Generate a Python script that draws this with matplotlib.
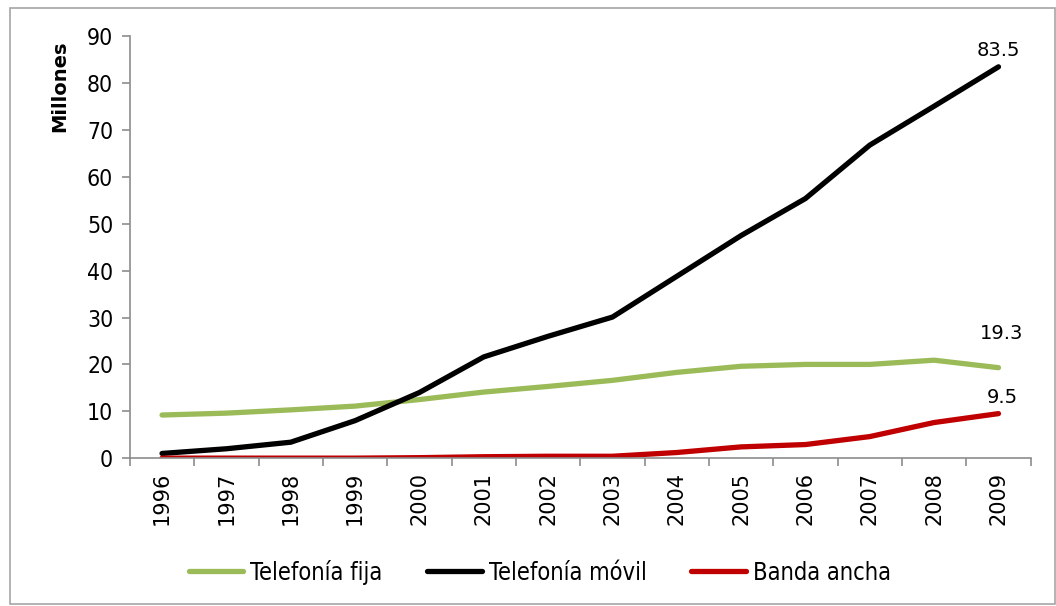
import matplotlib.pyplot as plt
from matplotlib.patches import Rectangle
from matplotlib.font_manager import FontProperties

years = ['1996', '1997', '1998', '1999', '2000', '2001', '2002',
         '2003', '2004', '2005', '2006', '2007', '2008', '2009']
fija = [9.2, 9.6, 10.3, 11.1, 12.5, 14.1, 15.3, 16.6, 18.3, 19.6, 20.0, 20.0, 20.9, 19.3]
movil = [1.0, 2.0, 3.4, 8.0, 14.0, 21.6, 26.0, 30.1, 38.8, 47.5, 55.4, 66.8, 75.1, 83.5]
banda = [0.0, 0.0, 0.0, 0.0, 0.1, 0.3, 0.4, 0.4, 1.2, 2.4, 2.9, 4.6, 7.6, 9.5]

grey = '#8c8c8c'
cond = FontProperties(family='DejaVu Sans', stretch='condensed', size=16.5)
cond_leg = FontProperties(family='DejaVu Sans', stretch='condensed', size=17)

fig = plt.figure(figsize=(10.56, 6.06), dpi=100)
fig.patches.append(Rectangle((0.009, 0.003), 0.99, 0.984, transform=fig.transFigure,
                             fill=False, edgecolor='#a6a6a6', linewidth=1.2))
ax = fig.add_axes([0.123, 0.244, 0.853, 0.696])

x = list(range(len(years)))
ax.plot(x, fija, color='#9bbb59', lw=3.8, solid_capstyle='round', label='Telefonía fija')
ax.plot(x, movil, color='black', lw=3.8, solid_capstyle='round', label='Telefonía móvil')
ax.plot(x, banda, color='#c00000', lw=3.8, solid_capstyle='round', label='Banda ancha')

ax.set_xlim(-0.5, len(years) - 0.5)
ax.set_ylim(0, 90)
ax.set_yticks(range(0, 91, 10))
ax.set_yticklabels([str(v) for v in range(0, 91, 10)], fontproperties=cond)
ax.set_xticks(x)
ax.set_xticklabels(years, rotation=90, fontsize=15)
ax.set_xticks([i - 0.5 for i in range(len(years) + 1)], minor=True)
ax.tick_params(axis='x', which='major', length=0, pad=10)
ax.tick_params(axis='x', which='minor', length=6, color=grey, width=1.2, direction='out')
ax.tick_params(axis='y', length=6, color=grey, width=1.2, pad=6)

for s in ['top', 'right']:
    ax.spines[s].set_visible(False)
for s in ['left', 'bottom']:
    ax.spines[s].set_color(grey)
    ax.spines[s].set_linewidth(1.2)

ax.text(-0.078, 0.99, 'Millones', transform=ax.transAxes, rotation=90,
        ha='center', va='top', fontsize=14, fontweight='bold')

ax.annotate(f'{movil[-1]}', (x[-1], movil[-1]), xytext=(0, 5), textcoords='offset points',
            ha='center', va='bottom', fontsize=14)
ax.annotate(f'{fija[-1]}', (x[-1], fija[-1]), xytext=(2, 18), textcoords='offset points',
            ha='center', va='bottom', fontsize=14)
ax.annotate(f'{banda[-1]}', (x[-1], banda[-1]), xytext=(3, 5), textcoords='offset points',
            ha='center', va='bottom', fontsize=14)

leg = ax.legend(loc='center', bbox_to_anchor=(0.455, -0.27), ncol=3, frameon=False,
                handlelength=2.3, handletextpad=0.3, columnspacing=1.9,
                prop=cond_leg)

fig.savefig('out.png', dpi=100)
